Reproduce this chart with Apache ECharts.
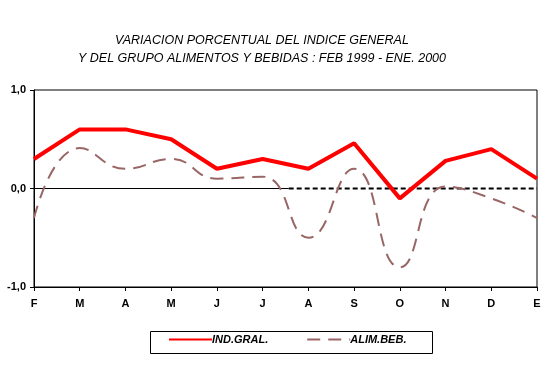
<!DOCTYPE html>
<html><head><meta charset="utf-8">
<script src="https://cdn.jsdelivr.net/npm/echarts@6/dist/echarts.min.js"></script>
<style>html,body{margin:0;padding:0;background:#fff}#c{width:548px;height:369px}</style>
</head><body><div id="c"></div>
<script>
var categories = ['F','M','A','M','J','J','A','S','O','N','D','E'];
var indGral = [0.3, 0.6, 0.6, 0.5, 0.2, 0.3, 0.2, 0.46, -0.1, 0.28, 0.4, 0.1];
var alimBeb = [-0.3, 0.41, 0.2, 0.3, 0.1, 0.12, -0.5, 0.2, -0.8, 0.02, -0.1, -0.3];
var yTicks = [-1, 0, 1];
var zeroDashStart = 5.57;
var titleLines = ['VARIACION PORCENTUAL DEL INDICE GENERAL', 'Y DEL GRUPO ALIMENTOS Y BEBIDAS : FEB 1999 - ENE. 2000'];
var FONT = '"Liberation Sans", Arial, sans-serif';

var chart = echarts.init(document.getElementById('c'), null, {renderer:'canvas'});
chart.setOption({
  animation: false,
  backgroundColor: '#fff',
  title: {
    text: titleLines.join('\n'), left: 257, top: 27, textAlign: 'center',
    textStyle: {fontFamily: FONT, fontSize: 12.5, fontStyle: 'italic', fontWeight: 'normal', lineHeight: 18, color: '#000'}
  },
  grid: {left: 34, right: 11, top: 90, bottom: 82, show: true, borderColor: '#000', borderWidth: 1, backgroundColor: 'transparent'},
  legend: {
    data: ['IND.GRAL.', 'ALIM.BEB.'], left: 168, top: 334, itemWidth: 43, itemHeight: 12, itemGap: 38,
    padding: 0, itemStyle: {opacity: 0},
    textStyle: {fontFamily: FONT, fontSize: 11, fontStyle: 'italic', fontWeight: 'bold', color: '#000', padding: [0,0,0,-5]}
  },
  graphic: [{type: 'rect', left: 148, top: 329, shape: {width: 282, height: 22}, style: {fill: 'none', stroke: '#000', lineWidth: 1}, z: 100}],
  xAxis: [{
    type: 'category', data: categories, boundaryGap: false,
    axisLine: {onZero: false, lineStyle: {color: '#000', width: 1}},
    axisTick: {show: true, length: 4, alignWithLabel: true, lineStyle: {color: '#000'}},
    axisLabel: {fontFamily: FONT, fontSize: 11, fontWeight: 'bold', color: '#000', margin: 11},
    splitLine: {show: false}
  }, {
    type: 'value', min: 0, max: categories.length - 1, show: false
  }],
  yAxis: {
    type: 'value', min: yTicks[0], max: yTicks[yTicks.length-1], interval: 1,
    axisLine: {show: true, lineStyle: {color: '#000'}},
    axisTick: {show: true, length: 4, inside: false, lineStyle: {color: '#000'}},
    axisLabel: {fontFamily: FONT, fontSize: 11, fontWeight: 'bold', color: '#000', margin: 8,
      formatter: function(v){ return v.toFixed(1).replace('.', ','); }},
    splitLine: {show: false}
  },
  series: [
    {name: 'zero-solid', type: 'line', xAxisIndex: 1, data: [[0,0],[zeroDashStart,0]], symbol: 'none', silent: true,
     lineStyle: {color: '#000', width: 1}, z: 1},
    {name: 'zero-dash', type: 'line', xAxisIndex: 1, data: [[zeroDashStart,0],[categories.length-1,0]], symbol: 'none', silent: true,
     lineStyle: {color: '#000', width: 2, type: [5,3]}, z: 1},
    {name: 'IND.GRAL.', type: 'line', data: indGral, symbol: 'none', smooth: false,
     lineStyle: {color: '#ff0000', width: 4}, itemStyle: {color: '#ff0000'}, z: 3},
    {name: 'ALIM.BEB.', type: 'line', data: alimBeb, symbol: 'none', smooth: 0.5,
     lineStyle: {color: '#996666', width: 2, type: [13,8]}, itemStyle: {color: '#996666'}, z: 2}
  ]
});
</script></body></html>
